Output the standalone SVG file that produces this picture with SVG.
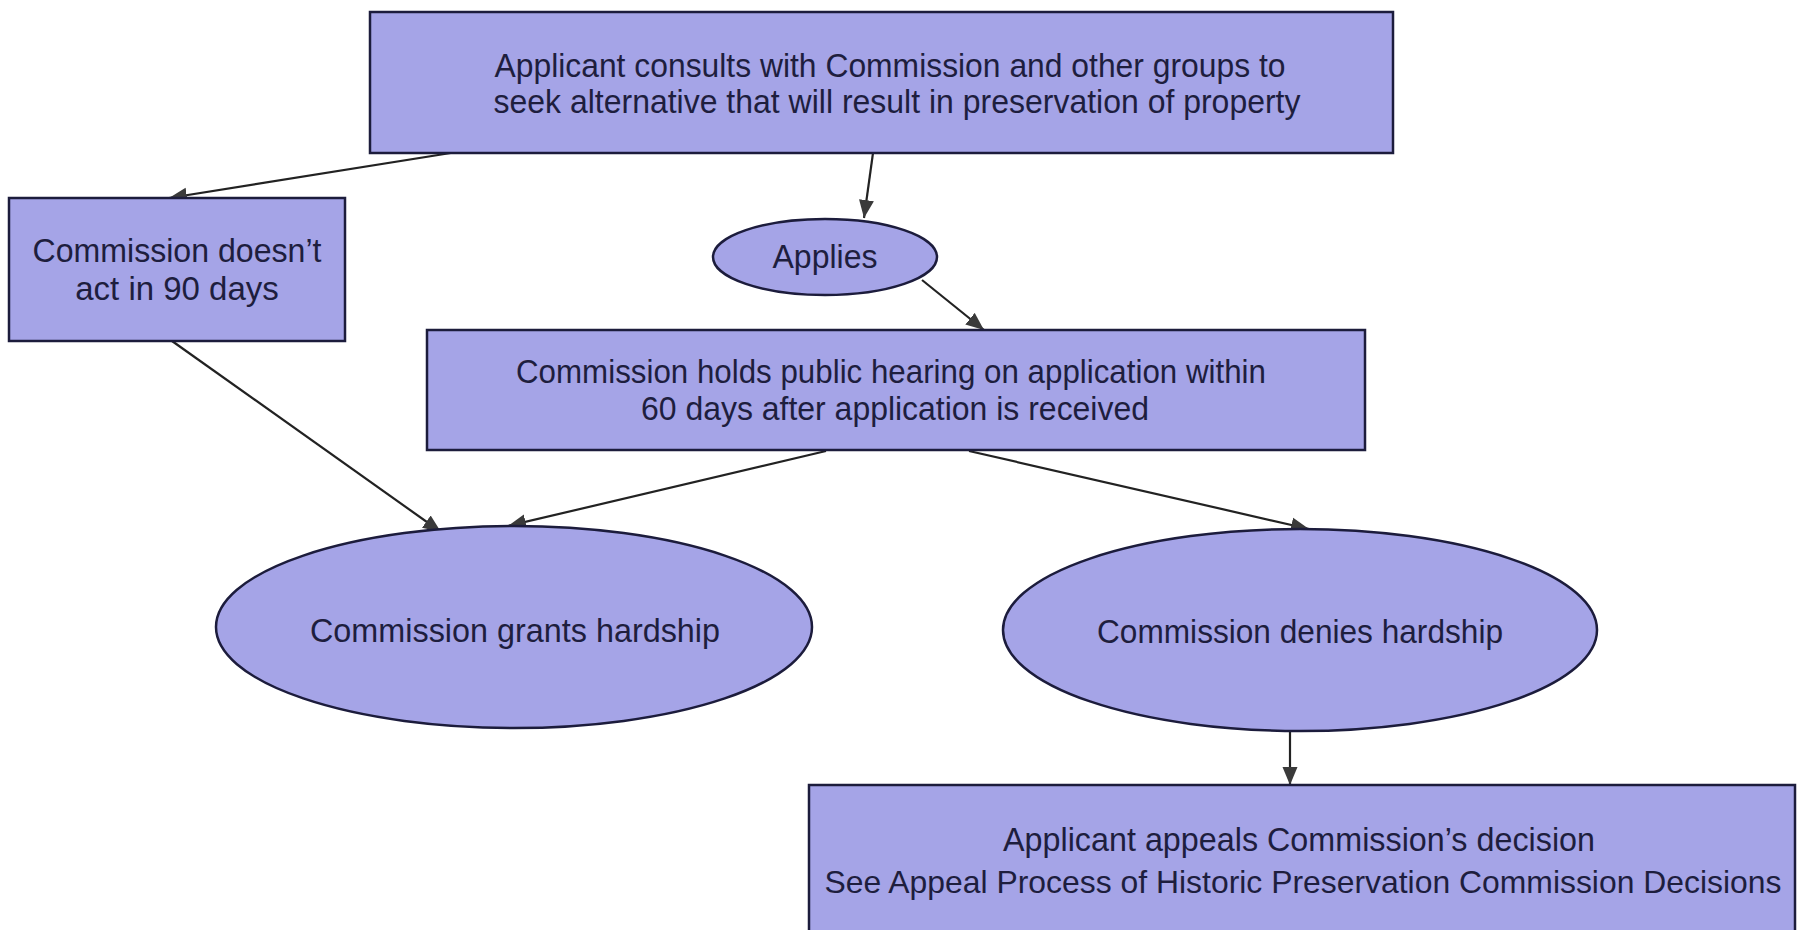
<svg xmlns="http://www.w3.org/2000/svg" width="1802" height="930" viewBox="0 0 1802 930">
<defs>
<style>
.n{fill:#a5a4e7;stroke:#1c1c3c;stroke-width:2.5}
.t{font-family:"Liberation Sans",Arial,sans-serif;font-size:33px;fill:#1e1e3e;text-anchor:middle}
.s{font-size:31.8px}
.c{stroke:#222222;stroke-width:2.2;fill:none;marker-end:url(#ah)}
</style>
<marker id="ah" markerUnits="userSpaceOnUse" markerWidth="20" markerHeight="16" refX="18" refY="8" orient="auto">
<path d="M0,0.5 L18,8 L0,15.5 Z" fill="#3a3a3a"/>
</marker>
</defs>
<rect width="1802" height="930" fill="#ffffff"/>
<g id="connectors">
<line class="c" x1="457" y1="152" x2="169" y2="198"/>
<line class="c" x1="873" y1="153" x2="864" y2="218"/>
<line class="c" x1="922" y1="280" x2="984" y2="330"/>
<line class="c" x1="172" y1="341" x2="441" y2="532"/>
<line class="c" x1="826" y1="451" x2="508" y2="526"/>
<line class="c" x1="969" y1="451" x2="1309" y2="529"/>
<line class="c" x1="1290" y1="731" x2="1290" y2="785"/>
</g>
<g id="top">
<rect class="n" x="370" y="12" width="1023" height="141"/>
<text class="t" x="890" y="77" textLength="791" lengthAdjust="spacingAndGlyphs">Applicant consults with Commission and other groups to</text>
<text class="t" x="897" y="113" textLength="807" lengthAdjust="spacingAndGlyphs">seek alternative that will result in preservation of property</text>
</g>
<g id="noact">
<rect class="n" x="9" y="198" width="336" height="143"/>
<text class="t" x="177" y="262" textLength="289" lengthAdjust="spacingAndGlyphs">Commission doesn’t</text>
<text class="t" x="177" y="300">act in 90 days</text>
</g>
<g id="applies">
<ellipse class="n" cx="825" cy="257" rx="112" ry="38"/>
<text class="t" x="825" y="268" textLength="105" lengthAdjust="spacingAndGlyphs">Applies</text>
</g>
<g id="hearing">
<rect class="n" x="427" y="330" width="938" height="120"/>
<text class="t" x="891" y="383" textLength="750" lengthAdjust="spacingAndGlyphs">Commission holds public hearing on application within</text>
<text class="t" x="895" y="420" textLength="508" lengthAdjust="spacingAndGlyphs">60 days after application is received</text>
</g>
<g id="grants">
<ellipse class="n" cx="514" cy="627" rx="298" ry="101"/>
<text class="t" x="515" y="642" textLength="410" lengthAdjust="spacingAndGlyphs">Commission grants hardship</text>
</g>
<g id="denies">
<ellipse class="n" cx="1300" cy="630" rx="297" ry="101"/>
<text class="t" x="1300" y="643" textLength="406" lengthAdjust="spacingAndGlyphs">Commission denies hardship</text>
</g>
<g id="appeal">
<rect class="n" x="809" y="785" width="986" height="160"/>
<text class="t" x="1299" y="851" textLength="592" lengthAdjust="spacingAndGlyphs">Applicant appeals Commission’s decision</text>
<text class="t s" x="1303" y="893" textLength="957" lengthAdjust="spacingAndGlyphs">See Appeal Process of Historic Preservation Commission Decisions</text>
</g>
</svg>
